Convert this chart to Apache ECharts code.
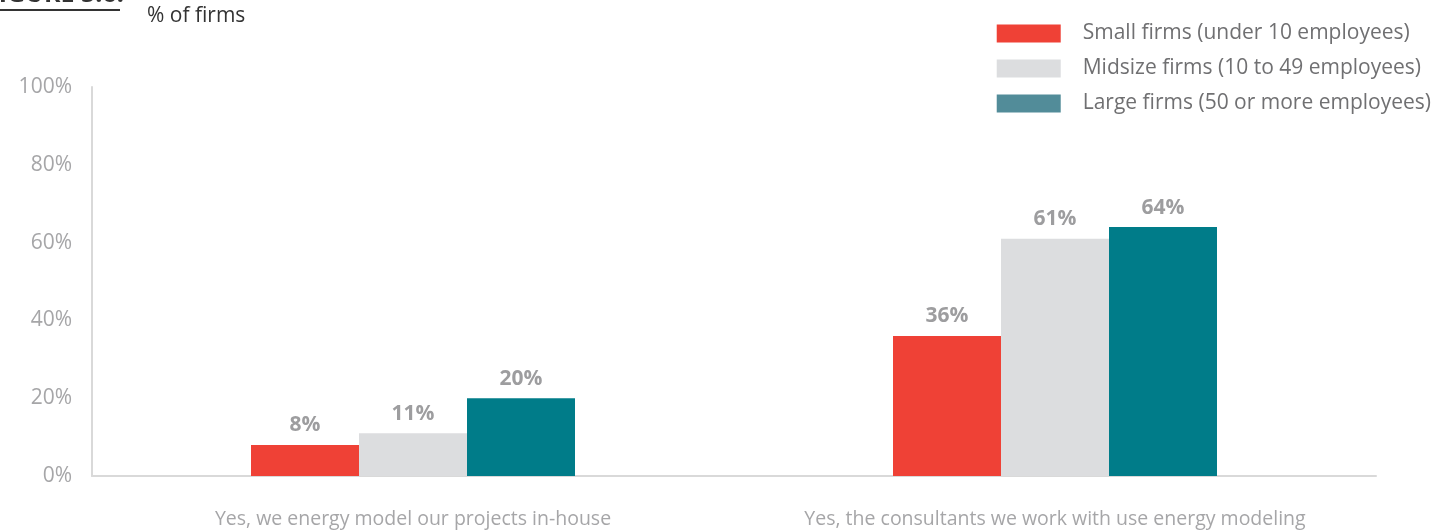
<!DOCTYPE html>
<html>
<head>
<meta charset="utf-8">
<script src="https://cdn.jsdelivr.net/npm/echarts@6/dist/echarts.min.js"></script>
<style>
  html, body { margin: 0; padding: 0; background: #fff; }
  #chart { width: 1438px; height: 530px; }
</style>
</head>
<body>
<div id="chart"></div>
<script>
// Energy modeling practice by firm size
const categories = [
  'Yes, we energy model our projects in-house',
  'Yes, the consultants we work with use energy modeling'
];
const seriesNames = [
  'Small firms (under 10 employees)',
  'Midsize firms (10 to 49 employees)',
  'Large firms (50 or more employees)'
];
const smallFirms = [8, 36];
const midsizeFirms = [11, 61];
const largeFirms = [20, 64];
const yTicks = [0, 20, 40, 60, 80, 100];

const barColors = ['#EF4136', '#DCDDDF', '#007C89'];
const legendColors = ['#EF4136', '#DCDDDF', '#528C99'];
const FONT = '"Open Sans", "Noto Sans", sans-serif';

const chart = echarts.init(document.getElementById('chart'), null, { renderer: 'canvas' });

function barSeries(name, data, color) {
  return {
    name: name,
    type: 'bar',
    data: data,
    barWidth: 108,
    barGap: '0%',
    itemStyle: { color: color },
    label: {
      show: true,
      position: 'top',
      distance: 9,
      formatter: '{c}%',
      color: '#9D9D9F',
      fontFamily: FONT,
      fontWeight: 'bold',
      fontSize: 21
    }
  };
}

chart.setOption({
  animation: false,
  grid: { left: 92, right: 62, top: 87, bottom: 54, containLabel: false },
  legend: {
    right: 2,
    top: 18,
    orient: 'vertical',
    itemWidth: 64,
    itemHeight: 18,
    itemGap: 14,
    icon: 'rect',
    textStyle: { color: '#707072', fontSize: 21, fontFamily: FONT, padding: [0, 0, 0, 17] },
    data: seriesNames.map((n, i) => ({ name: n, itemStyle: { color: legendColors[i] } }))
  },
  xAxis: {
    type: 'category',
    data: categories,
    axisLine: { lineStyle: { color: '#D9D9D9', width: 2 } },
    axisTick: { show: false },
    axisLabel: { interval: 0, color: '#A6A6A8', fontSize: 19.5, fontFamily: FONT, margin: 33 }
  },
  yAxis: {
    type: 'value',
    min: 0,
    max: 100,
    interval: 20,
    axisLine: { show: true, lineStyle: { color: '#D9D9D9', width: 2 } },
    axisTick: { show: false },
    splitLine: { show: false },
    axisLabel: {
      color: '#A6A6A8',
      fontSize: 21,
      fontFamily: FONT,
      margin: 20,
      formatter: v => (yTicks.includes(v) ? v + '%' : '')
    }
  },
  graphic: [
    {
      type: 'text',
      left: 147,
      top: 6,
      style: { text: '% of firms', fill: '#333333', fontSize: 21, fontFamily: FONT }
    },
    {
      type: 'text',
      x: -15,
      y: -18,
      style: { text: 'FIGURE 5.6:', fill: '#333333', fontSize: 25, fontWeight: 'bold', fontFamily: FONT }
    },
    {
      type: 'line',
      shape: { x1: 0, y1: 10, x2: 120, y2: 10 },
      style: { stroke: '#333333', lineWidth: 2 }
    }
  ],
  series: [
    barSeries(seriesNames[0], smallFirms, barColors[0]),
    barSeries(seriesNames[1], midsizeFirms, barColors[1]),
    barSeries(seriesNames[2], largeFirms, barColors[2])
  ]
});
</script>
</body>
</html>
